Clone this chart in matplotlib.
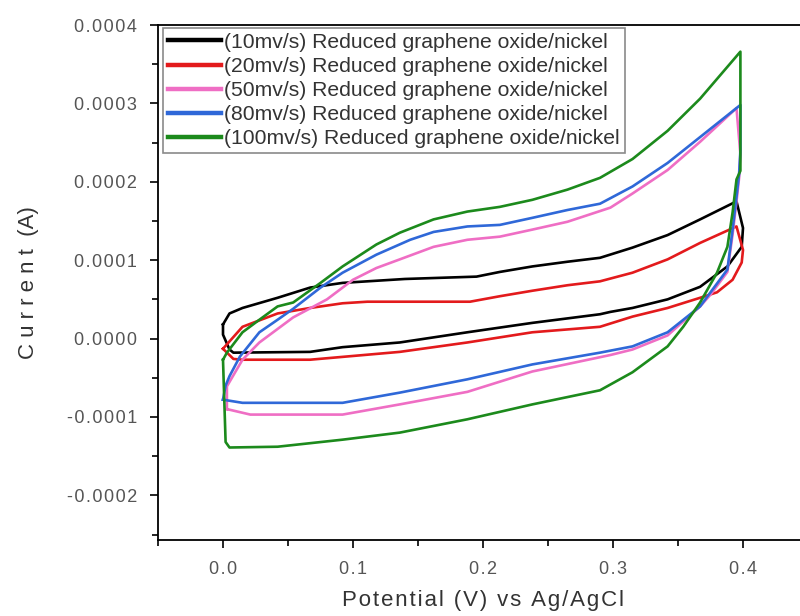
import matplotlib
matplotlib.use("Agg")
import matplotlib.pyplot as plt
from matplotlib.ticker import MultipleLocator

plt.rcParams['font.family'] = ['Liberation Sans', 'DejaVu Sans']

# cyclic voltammograms, potential in V, current in 1e-4 A
# each loop: anodic sweep 0 -> 0.4 V, then cathodic sweep back to 0 V
v10_fwd = [0.000, 0.005, 0.015, 0.042, 0.067, 0.092, 0.111, 0.140, 0.195, 0.213, 0.238, 0.265, 0.290, 0.315, 0.342, 0.367, 0.395]
i10_fwd = [0.18, 0.32, 0.39, 0.52, 0.65, 0.71, 0.73, 0.76, 0.79, 0.85, 0.92, 0.98, 1.03, 1.16, 1.32, 1.52, 1.75]
v10_rev = [0.400, 0.399, 0.388, 0.367, 0.342, 0.315, 0.298, 0.290, 0.238, 0.188, 0.136, 0.092, 0.067, 0.008, 0.005, 0.000, 0.000]
i10_rev = [1.41, 1.17, 0.92, 0.66, 0.50, 0.39, 0.34, 0.31, 0.20, 0.08, -0.05, -0.11, -0.17, -0.18, -0.14, 0.05, 0.18]

v20_fwd = [0.000, 0.015, 0.042, 0.067, 0.092, 0.111, 0.190, 0.213, 0.238, 0.265, 0.290, 0.315, 0.342, 0.367, 0.395]
i20_fwd = [-0.13, 0.15, 0.32, 0.39, 0.45, 0.47, 0.47, 0.54, 0.61, 0.68, 0.73, 0.84, 1.01, 1.22, 1.43]
v20_rev = [0.400, 0.399, 0.392, 0.380, 0.367, 0.342, 0.315, 0.290, 0.238, 0.188, 0.136, 0.067, 0.015, 0.008, 0.000]
i20_rev = [1.13, 0.97, 0.75, 0.59, 0.52, 0.39, 0.28, 0.15, 0.08, -0.05, -0.17, -0.27, -0.27, -0.26, -0.13]

v50_fwd = [0.003, 0.003, 0.015, 0.028, 0.054, 0.080, 0.100, 0.118, 0.136, 0.162, 0.188, 0.213, 0.238, 0.265, 0.298, 0.315, 0.342, 0.367, 0.395]
i50_fwd = [-0.90, -0.61, -0.27, -0.05, 0.27, 0.50, 0.75, 0.90, 1.01, 1.17, 1.26, 1.30, 1.39, 1.49, 1.67, 1.85, 2.15, 2.51, 2.94]
v50_rev = [0.398, 0.397, 0.395, 0.392, 0.388, 0.375, 0.367, 0.342, 0.315, 0.298, 0.238, 0.188, 0.136, 0.092, 0.021, 0.003]
i50_rev = [2.35, 2.05, 1.75, 1.33, 0.85, 0.56, 0.41, 0.04, -0.14, -0.21, -0.42, -0.68, -0.84, -0.97, -0.97, -0.90]

v80_fwd = [0.000, 0.002, 0.005, 0.013, 0.028, 0.042, 0.054, 0.075, 0.092, 0.118, 0.144, 0.162, 0.188, 0.213, 0.238, 0.265, 0.290, 0.315, 0.342, 0.367, 0.398]
i80_fwd = [-0.78, -0.60, -0.48, -0.23, 0.08, 0.24, 0.38, 0.65, 0.84, 1.07, 1.26, 1.36, 1.43, 1.45, 1.54, 1.64, 1.72, 1.94, 2.24, 2.57, 2.98]
v80_rev = [0.398, 0.397, 0.395, 0.392, 0.388, 0.375, 0.367, 0.342, 0.315, 0.290, 0.238, 0.188, 0.136, 0.092, 0.015, 0.000]
i80_rev = [2.40, 2.10, 1.81, 1.39, 0.88, 0.59, 0.41, 0.08, -0.10, -0.18, -0.33, -0.52, -0.69, -0.82, -0.82, -0.78]

v100_fwd = [0.000, 0.003, 0.015, 0.028, 0.042, 0.054, 0.075, 0.092, 0.118, 0.136, 0.162, 0.188, 0.213, 0.238, 0.265, 0.290, 0.315, 0.342, 0.367, 0.398]
i100_fwd = [-0.27, -0.18, 0.08, 0.24, 0.41, 0.46, 0.71, 0.92, 1.20, 1.35, 1.52, 1.62, 1.68, 1.77, 1.90, 2.05, 2.29, 2.65, 3.06, 3.66]
v100_rev = [0.398, 0.398, 0.395, 0.392, 0.388, 0.380, 0.367, 0.354, 0.342, 0.315, 0.290, 0.238, 0.188, 0.136, 0.092, 0.042, 0.005, 0.002, 0.000]
i100_rev = [3.66, 2.14, 2.03, 1.61, 1.17, 0.84, 0.46, 0.15, -0.10, -0.43, -0.66, -0.84, -1.03, -1.20, -1.29, -1.38, -1.39, -1.32, -0.27]

scan_rates = ['10', '20', '50', '80', '100']
colors = ['#000000', '#e31a1c', '#ef6ec4', '#2f68d8', '#1c8a1c']
loops = [
    (v10_fwd + v10_rev, i10_fwd + i10_rev),
    (v20_fwd + v20_rev, i20_fwd + i20_rev),
    (v50_fwd + v50_rev, i50_fwd + i50_rev),
    (v80_fwd + v80_rev, i80_fwd + i80_rev),
    (v100_fwd + v100_rev, i100_fwd + i100_rev),
]

xticks = [0.0, 0.1, 0.2, 0.3, 0.4]
yticks = [-0.0002, -0.0001, 0.0, 0.0001, 0.0002, 0.0003, 0.0004]

HAIR = '\u200a'


def spaced(s, sep=HAIR):
    # loose letter spacing, as in the original software export
    return sep.join(s)


fig = plt.figure(figsize=(8, 6.16), dpi=100)
ax = fig.add_axes([158 / 800, 76 / 616, 650 / 800, 515 / 616])

for rate, col, (v, i) in zip(scan_rates, colors, loops):
    ax.plot(v, [c * 1e-4 for c in i], color=col, lw=1.9,
            label='(%smv/s) Reduced graphene oxide/nickel' % rate)

ax.set_xlim(-0.05, 0.45)
ax.set_ylim(-0.000257, 0.0004)
ax.xaxis.set_minor_locator(MultipleLocator(0.05))
ax.yaxis.set_minor_locator(MultipleLocator(0.00005))
ax.set_xticks(xticks)
ax.set_xticklabels([spaced('%.1f' % t) for t in xticks])
ax.set_yticks(yticks)
ax.set_yticklabels([spaced('%.4f' % t) for t in yticks])

ax.tick_params(which='major', direction='out', length=6, width=1.2,
               labelsize=13, labelcolor='#555555', pad=9)
ax.tick_params(which='minor', direction='out', length=4, width=1.2)
for s in ax.spines.values():
    s.set_linewidth(1.3)

ax.set_xlabel(spaced('Potential (V) vs Ag/AgCl'), fontsize=16, color='#333333', labelpad=9)
ax.set_ylabel('C u r r e n t  (A)', fontsize=16, color='#333333', labelpad=20)

leg = ax.legend(loc='upper left', bbox_to_anchor=(0.008, 0.995), borderaxespad=0,
                fontsize=15.2, handlelength=2.5, handletextpad=0.15,
                labelspacing=0.24, borderpad=0.25, fancybox=False, framealpha=1)
leg.get_frame().set_edgecolor('#8a8a8a')
leg.get_frame().set_linewidth(1.2)
for line in leg.get_lines():
    line.set_linewidth(3.2)
for t in leg.get_texts():
    t.set_color('#333333')

fig.savefig('out.png', dpi=100)
